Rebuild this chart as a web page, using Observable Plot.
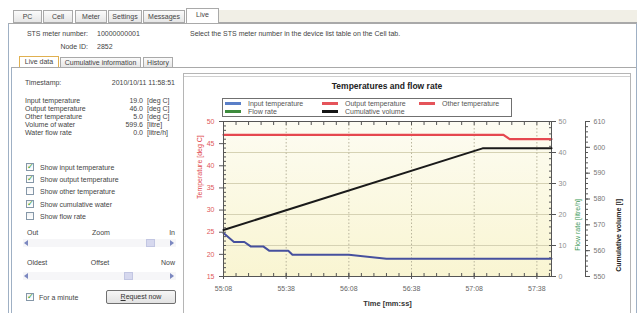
<!DOCTYPE html>
<html><head><meta charset="utf-8">
<script src="https://cdn.jsdelivr.net/npm/d3@7"></script>
<script src="https://cdn.jsdelivr.net/npm/@observablehq/plot@0.6"></script>
<style>
body{margin:0;width:643px;height:313px;overflow:hidden;background:#fff;font-family:"Liberation Sans",Arial,sans-serif;font-size:7px;color:#444;position:relative}
.a{position:absolute;white-space:nowrap;line-height:9px}
.box{position:absolute;box-sizing:border-box}
.tab{position:absolute;box-sizing:border-box;border:1px solid #a9a9a9;background:linear-gradient(#fbfbfb,#e6e6e6);text-align:center;line-height:11px;color:#444}
.cb{position:absolute;width:8px;height:8px;box-sizing:border-box;border:1px solid #8597a8;background:linear-gradient(#f0f2f4,#fff);font-family:"DejaVu Sans";font-size:8px;line-height:6px;color:#2a9a2a;text-align:center;font-weight:bold}
svg.chart{position:absolute;left:186px;top:77px}
</style></head><body>
<script>
// ---------- data ----------
const xTickLabels = ["55:08","55:38","56:08","56:38","57:08","57:38"];
const xDomainLabels = ["55:08","57:45"];
const inputTime = ["55:08","55:13","55:18","55:21","55:27","55:30","55:39","55:41","56:08","56:26","57:45"];
const inputTemp = [24.8,22.8,22.8,21.8,21.8,20.8,20.8,19.9,19.9,19.0,19.0];
const outputTime = ["55:08","57:22","57:25","57:45"];
const outputTemp = [47,47,46,46];
const volumeTime = ["55:08","57:12","57:45"];
const volumeValues = [568,599.6,599.6];
const tempTicks = [15,20,25,30,35,40,45,50];
const flowTicks = [0,10,20,30,40,50];
const volumeTicks = [550,560,570,580,590,600,610];
const tempDomain = [15,50], flowDomain = [0,50], volumeDomain = [550,610];

const legendRow1 = [["Input temperature","#5a7fc8"],["Output temperature","#e5545a"],["Other temperature","#e5545a"]];
const legendRow2 = [["Flow rate","#3d8c3d"],["Cumulative volume","#151515"]];
const readings = [["Input temperature","19.0","[deg C]"],["Output temperature","46.0","[deg C]"],["Other temperature","5.0","[deg C]"],["Volume of water","599.6","[litre]"],["Water flow rate","0.0","[litre/h]"]];
const showBoxes = [["Show input temperature",true],["Show output temperature",true],["Show other temperature",false],["Show cumulative water",true],["Show flow rate",false]];
const topTabs = ["PC","Cell","Meter","Settings","Messages","Live"];
const subTabs = ["Live data","Cumulative information","History"];

// ---------- UI helpers ----------
const body = document.body;
function el(cls, css, html){const d=document.createElement("div");d.className=cls;d.style.cssText=css;if(html!=null)d.innerHTML=html;body.appendChild(d);return d;}
function txt(s,x,y,align,extra){const tr=align==="r"?"translateX(-100%)":align==="c"?"translateX(-50%)":"";return el("a",`left:${x}px;top:${y-4.5}px;transform:${tr};${extra||""}`,s);}
function cb(x,y,on){el("cb",`left:${x}px;top:${y-4}px`,on?"✓":"");}

// window frame
el("box","left:0;top:0;width:643px;height:24px;background:#fff");
el("box","left:219px;top:10px;width:418px;height:13px;background:#f1efe6;border-bottom:1px solid #a9a9a9");
const tabX=[[13,42],[43,73],[75,107],[108,142],[143,185],[186,219]];
topTabs.forEach((t,i)=>{const [a,b]=tabX[i];const sel=i===5;el("tab",`left:${a}px;top:${sel?8:10}px;width:${b-a}px;height:${sel?16:13}px;${sel?"background:#fff;border-bottom:none;":""}`,t);});
el("box","left:8px;top:23px;width:629px;height:291px;border-left:1px solid #9fb0c4;border-right:1px solid #9fb0c4;border-top:1px solid #a9a9a9");
txt("STS meter number:",88,33,"r");txt("10000000001",97,33);
txt("Node ID:",88,46,"r");txt("2852",97,46);
txt("Select the STS meter number in the device list table on the Cell tab.",190,33);
const subX=[[19,59],[60,141],[143,173]];
subTabs.forEach((t,i)=>{const [a,b]=subX[i];const sel=i===0;el("tab",`left:${a}px;top:${sel?56:57}px;width:${b-a}px;height:${sel?12:11}px;line-height:9px;${sel?"background:#fff;border-color:#e0b050;border-bottom:none;":""}`,t);});
el("box","left:11px;top:67px;width:625px;height:247px;border-top:1px solid #a9a9a9;border-left:1px solid #9fb0c4");

// left panel
txt("Timestamp:",25,82);txt("2010/10/11 11:58:51",175,82,"r");
const rowY=[100,108,116,124,132];
readings.forEach((r,i)=>{txt(r[0],25,rowY[i]);txt(r[1],143,rowY[i],"r");txt(r[2],147,rowY[i]);});
const cbY=[167,179,191,204,216];
showBoxes.forEach((s,i)=>{cb(26,cbY[i],s[1]);txt(s[0],40,cbY[i]);});
txt("Out",27,232);txt("Zoom",101,232,"c");txt("In",175,232,"r");
function scroll(y,thumb){el("box",`left:23px;top:${y-4}px;width:153px;height:8px;background:#f6f6f8`);
 el("box",`left:24px;top:${y-3}px;width:0;height:0;border-top:3px solid transparent;border-bottom:3px solid transparent;border-right:4px solid #7c88c0`);
 el("box",`left:170px;top:${y-3}px;width:0;height:0;border-top:3px solid transparent;border-bottom:3px solid transparent;border-left:4px solid #7c88c0`);
 el("box",`left:${thumb}px;top:${y-4}px;width:9px;height:8px;background:#d6d8ee;border:1px solid #c2c6e2`);}
scroll(243,146);
txt("Oldest",27,262);txt("Offset",100,262,"c");txt("Now",175,262,"r");
scroll(276,124);
cb(26,297,true);txt("For a minute",39,297);
el("box","left:106px;top:290px;width:70px;height:14px;border:1px solid #707070;border-radius:2px;background:linear-gradient(#f6f6f6,#e2e2e2);text-align:center;line-height:12px;color:#333","<u>R</u>equest now");

// chart panel
el("box","left:183px;top:73px;width:448px;height:241px;border:1px solid #b5b5b5;background:#fff");
el("box","left:184px;top:76px;width:446px;height:1px;background:#d0d0d0");
txt("Temperatures and flow rate",387,86,"c","font-weight:bold;font-size:8.5px;color:#222");
el("box","left:222px;top:98px;width:290px;height:19px;border:1px solid #707070;background:#fff");
function legendRow(items,y){const xs=[[225,248],[322,345],[419,442]];items.forEach((it,i)=>{el("box",`left:${xs[i][0]}px;top:${y-1.5}px;width:16px;height:3px;background:${it[1]}`);txt(it[0],xs[i][1],y,null,"color:#555");});}
legendRow(legendRow1,103.5);legendRow(legendRow2,111.5);

// ---------- plots ----------
const T = s => {const [m,sec]=s.split(":").map(Number);return new Date(Date.UTC(2010,9,11,11,m,sec));};
const xDom = xDomainLabels.map(T);
const xTicks = xTickLabels.map(T);
const xMinor = d3.range(0, (xDom[1]-xDom[0])/1000 + 1, 6).map(s => new Date(+xDom[0] + s*1000));
const inputData = inputTime.map((s,i)=>({t:T(s),v:inputTemp[i]}));
const outputData = outputTime.map((s,i)=>({t:T(s),v:outputTemp[i]}));
const volumeData = volumeTime.map((s,i)=>({t:T(s),v:volumeValues[i]}));
const W=443,H=236;
const none = () => "";
function P(marks, ydom, mr, ownX){
  const xOpts = {type:"utc",domain:xDom,range:[37,365]};
  if (!ownX) xOpts.axis = null;
  const svg = Plot.plot({width:W,height:H,marginLeft:37,marginRight:mr,marginTop:44,marginBottom:37,
    x:xOpts, y:{domain:ydom},
    style:{background:"transparent",fontFamily:"Liberation Sans, Arial, sans-serif",fontSize:"7px",overflow:"visible"},
    marks});
  svg.classList.add("chart"); body.appendChild(svg); return svg;
}
// layer 1: background, grids, flow-rate axis
const svgB = P([
  Plot.frame({fill:"url(#bgGrad)", stroke:null}),
  Plot.gridY({ticks:flowTicks.slice(1,-1), stroke:"#d6d2b4", strokeOpacity:1}),
  Plot.gridX({ticks:xTicks.slice(1), stroke:"#b9b59c", strokeOpacity:1, strokeDasharray:"1.5,2"}),
  Plot.axisY({anchor:"right", ticks:d3.range(0,51,2), tickSize:3, dx:-3, tickFormat:none, stroke:"#555", label:null}),
  Plot.axisY({anchor:"right", ticks:flowTicks, tickSize:4, tickPadding:3, fill:"#8c8c8c", stroke:"#555", label:null}),
  Plot.text(["Flow rate [litre/h]"], {text:d=>d, frameAnchor:"right", rotate:-90, dx:26, fill:"#3d9a5a"})
], flowDomain, 78, false);
svgB.insertAdjacentHTML("afterbegin",'<defs><linearGradient id="bgGrad" x1="0" y1="0" x2="0" y2="1"><stop offset="0" stop-color="#fdfcf2"/><stop offset="1" stop-color="#f9f5d2"/></linearGradient></defs>');
// layer 2: temperatures
P([
  Plot.axisX({anchor:"bottom", ticks:xMinor, tickSize:3, dy:-3, tickFormat:none, stroke:"#555", label:null}),
  Plot.axisX({anchor:"top", ticks:xMinor, tickSize:3, dy:3, tickFormat:none, stroke:"#555", label:null}),
  Plot.axisX({anchor:"bottom", ticks:xTicks, tickSize:3, tickPadding:7, tickFormat:d3.utcFormat("%M:%S"), fill:"#666", stroke:"#555", label:null}),
  Plot.axisX({anchor:"bottom", ticks:xTicks, tickSize:3, dy:-3, tickFormat:none, stroke:"#555", label:null}),
  Plot.axisY({anchor:"left", ticks:d3.range(15,51,1), tickSize:3, dx:3, tickFormat:none, stroke:"#555", label:null}),
  Plot.axisY({anchor:"left", ticks:tempTicks, tickSize:4, tickPadding:5, fill:"#e0585c", stroke:"#555", label:null}),
  Plot.line(outputData, {x:"t", y:"v", stroke:"#e5484f", strokeWidth:2.2}),
  Plot.line(inputData, {x:"t", y:"v", stroke:"#46509e", strokeWidth:2}),
  Plot.frame({stroke:"#555"}),
  Plot.text(["Temperature [deg C]"], {text:d=>d, frameAnchor:"left", rotate:-90, dx:-24, fill:"#e0484c"}),
  Plot.text(["Time [mm:ss]"], {text:d=>d, frameAnchor:"bottom", dy:29, fontWeight:"bold", fill:"#333", fontSize:7.5})
], tempDomain, 78, true);
// layer 3: cumulative volume
P([
  Plot.frame({anchor:"right", stroke:"#555"}),
  Plot.axisY({anchor:"right", ticks:d3.range(550,611,2), tickSize:2, tickFormat:none, stroke:"#555", label:null}),
  Plot.axisY({anchor:"right", ticks:volumeTicks, tickSize:4, tickPadding:4, fill:"#777", stroke:"#555", label:null}),
  Plot.line(volumeData, {x:"t", y:"v", stroke:"#1a1a1a", strokeWidth:2}),
  Plot.text(["Cumulative volume [l]"], {text:d=>d, frameAnchor:"right", rotate:-90, dx:33, fill:"#222", fontWeight:"bold"})
], volumeDomain, 44, false);
</script>
</body></html>
